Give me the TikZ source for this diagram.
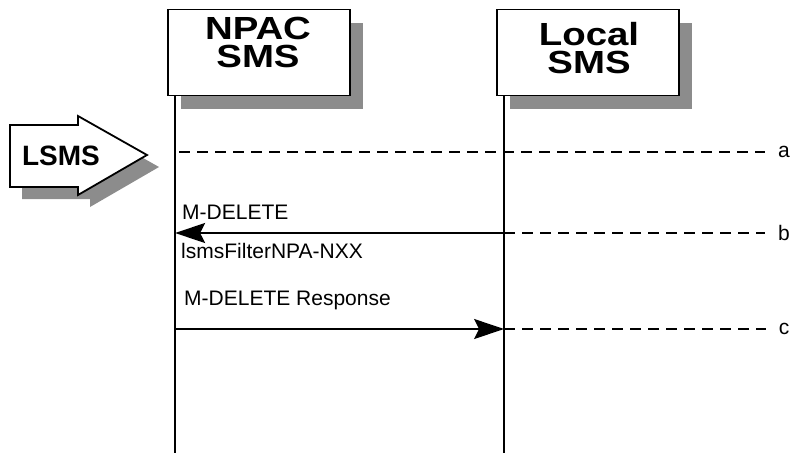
\documentclass[tikz,border=0pt]{standalone}
\usepackage{fontspec}
\setmainfont{Liberation Sans}
\newfontfamily\headfont{Liberation Sans}[FakeStretch=1.2]
\usetikzlibrary{arrows.meta,positioning,shadows}

\begin{document}
\begin{tikzpicture}[
  x=1pt, y=-1pt,
  lifebox/.style={
    rectangle, draw=black, line width=1.8pt, fill=white,
    minimum width=182pt, minimum height=86pt, inner sep=0pt,
    drop shadow={shadow xshift=13pt, shadow yshift=-13pt,
                 fill=black!45, opacity=1},
  },
  boxtext/.style={font=\headfont\bfseries\fontsize{32}{28}\selectfont,
                  align=center, inner sep=0pt, anchor=north},
  lifeline/.style={line width=1.5pt},
  msg/.style={-{Stealth[length=30pt, width=20pt, inset=5pt]}, line width=1.8pt},
  dline/.style={line width=1.8pt, dash pattern=on 11pt off 7pt},
  lbl/.style={font=\fontsize{21}{24}\selectfont, inner sep=0pt, anchor=west},
  tag/.style={font=\fontsize{21}{24}\selectfont, inner sep=0pt},
]
  \useasboundingbox (0,0) rectangle (791,453);

  % participants
  \node[lifebox] (npac) at (259,52.5) {};
  \node[boxtext] (npactxt) at (258,17) {NPAC\\SMS};
  \node[lifebox] (loc)  at (588,52.5) {};
  \node[boxtext] (loctxt) at (589,22) {Local\\SMS};

  \coordinate (npacx) at ([xshift=8pt]npac.south west);
  \coordinate (locx)  at ([xshift=8pt]loc.south west);
  \draw[lifeline] (npacx) -- (npacx |- 0,453);
  \draw[lifeline] (locx)  -- (locx |- 0,453);

  % LSMS block arrow
  \fill[black!45, shift={(12,12)}] (10,125) -- (78,125) -- (78,116) -- (147,155)
    -- (78,195) -- (78,187) -- (10,187) -- cycle;
  \draw[line width=1.8pt, fill=white] (10,125) -- (78,125) -- (78,116) -- (147,155)
    -- (78,195) -- (78,187) -- (10,187) -- cycle;
  \node[font=\bfseries\fontsize{28}{30}\selectfont, inner sep=0pt, anchor=base]
    (lsms) at (61,165) {LSMS};

  % step tags
  \node[tag] (ta) at (784,152) {a};
  \node[tag] (tb) at (784,233) {b};
  \node[tag] (tc) at (784,329) {c};

  \draw[dline] ([xshift=4pt]npacx |- ta) -- ([xshift=-13pt]ta.west);

  \draw[msg] (locx |- tb) -- (npacx |- tb);
  \draw[dline] (locx |- tb) -- ([xshift=-13pt]tb.west);
  \node[lbl] (mdel) at (182,212.5) {M-DELETE};
  \node[lbl] (filt) at (181,251) {lsmsFilterNPA-NXX};

  \draw[msg] (npacx |- tc) -- (locx |- tc);
  \draw[dline] (locx |- tc) -- ([xshift=-13pt]tc.west);
  \node[lbl] (mresp) at (184,300) {M-DELETE Response};
\end{tikzpicture}
\end{document}
